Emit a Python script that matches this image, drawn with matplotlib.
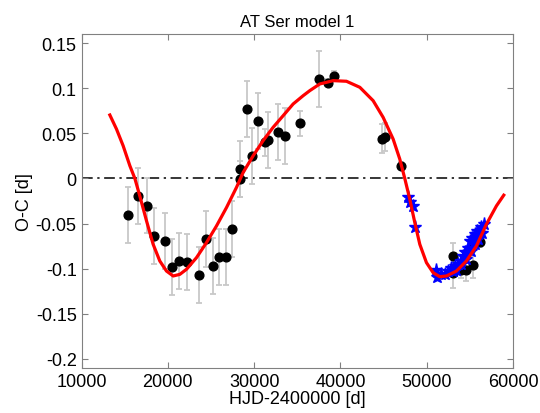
import numpy as np
import matplotlib
matplotlib.use("Agg")
import matplotlib.pyplot as plt

plt.rcParams['font.family'] = ['Liberation Sans', 'DejaVu Sans']

# timing observations with errors (black dots)
hjd_obs = [15400, 16560, 17530, 18420, 19650, 20430, 21240, 22240, 23590, 24480,
           25180, 25910, 26720, 27420, 28340, 28340, 29230, 29770, 30500, 31240,
           31620, 32780, 33630, 35290, 37480, 38570, 39230, 44830, 45140, 47000,
           53100, 53100, 53950, 54600, 55410, 55070, 56150]
oc_obs = [-0.040, -0.019, -0.030, -0.064, -0.069, -0.098, -0.092, -0.093, -0.107, -0.067,
          -0.097, -0.087, -0.087, -0.056, 0.011, -0.001, 0.077, 0.025, 0.064, 0.040,
          0.043, 0.052, 0.047, 0.061, 0.110, 0.106, 0.114, 0.044, 0.046, 0.014,
          -0.086, -0.105, -0.102, -0.102, -0.096, -0.078, -0.070]
err_obs = [0.031, 0.031, 0.031, 0.031, 0.031, 0.031, 0.031, 0.031, 0.031, 0.031,
           0.031, 0.031, 0.031, 0.031, 0.031, 0.020, 0.031, 0.031, 0.031, 0.015,
           0.031, 0.031, 0.031, 0.014, 0.031, 0.004, 0.005, 0.016, 0.016, 0.004,
           0.015, 0.016, 0.008, 0.012, 0.014, 0.008, 0.006]

# newer minima (blue stars)
hjd_new = [47800, 48100, 48400, 48650, 51130, 51250, 51710, 52480, 52870, 53250,
           53640, 53950, 54220, 54490, 54800, 54990, 55260, 55570, 55880, 56270,
           56650, 56420, 55960, 55570, 55110, 54600, 54030, 53450, 53060, 52100]
oc_new = [-0.020, -0.026, -0.031, -0.054, -0.101, -0.109, -0.106, -0.103, -0.099, -0.097,
          -0.095, -0.091, -0.086, -0.082, -0.077, -0.069, -0.066, -0.062, -0.058, -0.054,
          -0.050, -0.061, -0.067, -0.073, -0.080, -0.089, -0.095, -0.101, -0.103, -0.106]

# fitted model
hjd_fit = [13280, 14050, 14820, 15600, 16180, 16750, 17530, 18300, 19070, 19840,
           20620, 21390, 22160, 23320, 24480, 25640, 26800, 27950, 28730, 29890,
           31040, 32200, 33360, 34520, 35680, 36450, 37610, 39160, 40700, 42250,
           43790, 44950, 46110, 46880, 47460, 48040, 48620, 49200, 49970, 50740,
           51510, 52290, 53450, 54600, 55760, 56920, 58080, 58930]
oc_fit = [0.0704, 0.0548, 0.0363, 0.0141, 0.0, -0.0193, -0.0470, -0.0730, -0.0915, -0.1026,
          -0.1081, -0.1063, -0.1007, -0.0878, -0.0711, -0.0526, -0.0322, -0.0100, 0.0067, 0.0252,
          0.0419, 0.0567, 0.0696, 0.0826, 0.0918, 0.0974, 0.1048, 0.1085, 0.1078, 0.1011,
          0.0863, 0.0678, 0.0437, 0.0215, 0.0, -0.0230, -0.0489, -0.0730, -0.0933, -0.1044,
          -0.1089, -0.1081, -0.1026, -0.0915, -0.0748, -0.0507, -0.0304, -0.0185]

xticks = [10000, 20000, 30000, 40000, 50000, 60000]
yticks = [-0.2, -0.15, -0.1, -0.05, 0, 0.05, 0.1, 0.15]
ytick_labels = ['-0.2', '-0.15', '-0.1', '-0.05', '0', '0.05', '0.1', '0.15']

fig = plt.figure(figsize=(5.4, 4.14), dpi=100)
ax = fig.add_axes([0.151, 0.109, 0.799, 0.806])

ax.axhline(0, color='black', lw=1.1, linestyle=(0, (7, 3, 1.5, 3)), zorder=1)

ax.errorbar(hjd_obs, oc_obs, yerr=err_obs, fmt='none', ecolor='#c8c8c8',
            elinewidth=1.3, capsize=2.5, capthick=1.3, zorder=2)
ax.plot(hjd_obs, oc_obs, 'o', color='black', markersize=6.3, zorder=3)
ax.plot(hjd_new, oc_new, '*', color='blue', markersize=9.5, zorder=4)
ax.plot(hjd_fit, oc_fit, '-', color='red', lw=2.3, zorder=5)

ax.set_xlim(10000, 60000)
ax.set_ylim(-0.21, 0.16)
ax.set_xticks(xticks)
ax.set_xticklabels([str(t) for t in xticks])
ax.set_yticks(yticks)
ax.set_yticklabels(ytick_labels)
ax.tick_params(direction='in', top=True, right=True, labelsize=13, length=4,
               color='#808080')
for s in ax.spines.values():
    s.set_color('#808080')

ax.set_xlabel('HJD-2400000 [d]', fontsize=13, labelpad=0)
ax.set_ylabel('O-C [d]', fontsize=13, labelpad=2)
ax.set_title('AT Ser model 1', fontsize=12)

fig.savefig('out.png', dpi=100)
